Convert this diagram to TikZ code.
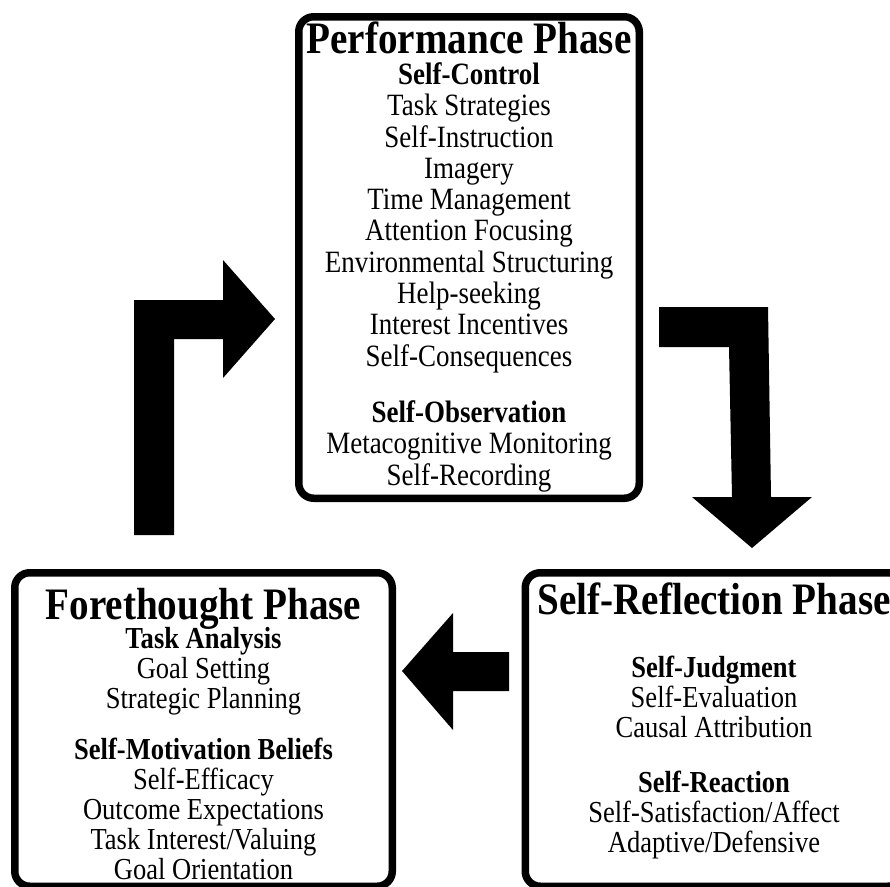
\documentclass[tikz,border=0pt]{standalone}
\usepackage{fontspec}
\setmainfont[FakeStretch=0.87]{Liberation Serif}
\usetikzlibrary{positioning, calc}

\newcommand{\phasetitle}[1]{{\fontsize{45}{31}\selectfont\bfseries #1}}
\newcommand{\tightskip}{\lineskiplimit -50pt\relax}

\begin{document}
\begin{tikzpicture}[x=1pt, y=-1pt]
    \tikzstyle{phase} = [rectangle, rounded corners=15pt, draw=black, line width=7.5pt, outer sep=0pt, inner sep=0pt]
    \tikzstyle{toptext} = [align=center, inner sep=0pt, font={\fontsize{31}{31.3}\selectfont\tightskip}]
    \tikzstyle{lowtext} = [align=center, inner sep=0pt, font={\fontsize{30.5}{30}\selectfont\tightskip}]
    \tikzstyle{bigarrow} = [fill=black, draw=none]

    \useasboundingbox (0,0) rectangle (890,886);

    \node[phase, minimum width=340.5pt, minimum height=481.5pt] (perf) at (469,257.5) {};
    \node[phase, minimum width=377.5pt, minimum height=313.5pt] (fore) at (203.5,729.5) {};
    \node[phase, minimum width=377.5pt, minimum height=313.5pt] (refl) at (714,729.5) {};

    \node[toptext, below=4.5pt of perf.north] (perftext) {%
        \phasetitle{Performance Phase}\\
        \textbf{Self-Control}\\
        Task Strategies\\
        Self-Instruction\\
        Imagery\\
        Time Management\\
        Attention Focusing\\
        Environmental Structuring\\
        Help-seeking\\
        Interest Incentives\\
        Self-Consequences\\[25pt]
        \textbf{Self-Observation}\\
        Metacognitive Monitoring\\
        Self-Recording};
    \node[lowtext, below=15.5pt of fore.north] (foretext) {%
        \phasetitle{Forethought Phase}\\[-1.5pt]
        \textbf{Task Analysis}\\
        Goal Setting\\
        Strategic Planning\\[21pt]
        \textbf{Self-Motivation Beliefs}\\
        Self-Efficacy\\
        Outcome Expectations\\
        Task Interest/Valuing\\
        Goal Orientation};
    \node[lowtext, below=10pt of refl.north] (refltext) {%
        \phasetitle{Self-Reflection Phase}\\[33pt]
        \textbf{Self-Judgment}\\
        Self-Evaluation\\
        Causal Attribution\\[25pt]
        \textbf{Self-Reaction}\\
        Self-Satisfaction/Affect\\
        Adaptive/Defensive};

    % forethought -> performance
    \fill[bigarrow] (134,535) -- (134,300) -- (223,300) -- (223,260) -- (275,319)
        -- (223,378) -- (223,339) -- (174,339) -- (174,535) -- cycle;
    % performance -> self-reflection
    \fill[bigarrow] (659,307) -- (768,307) -- (771,497) -- (812,497) -- (752,548)
        -- (692,497) -- (732,497) -- (729,347) -- (659,347) -- cycle;
    % self-reflection -> forethought
    \fill[bigarrow] (509,652) -- (453,652) -- (453,613) -- (402,671) -- (453,730)
        -- (453,691) -- (509,691) -- cycle;
\end{tikzpicture}
\end{document}
